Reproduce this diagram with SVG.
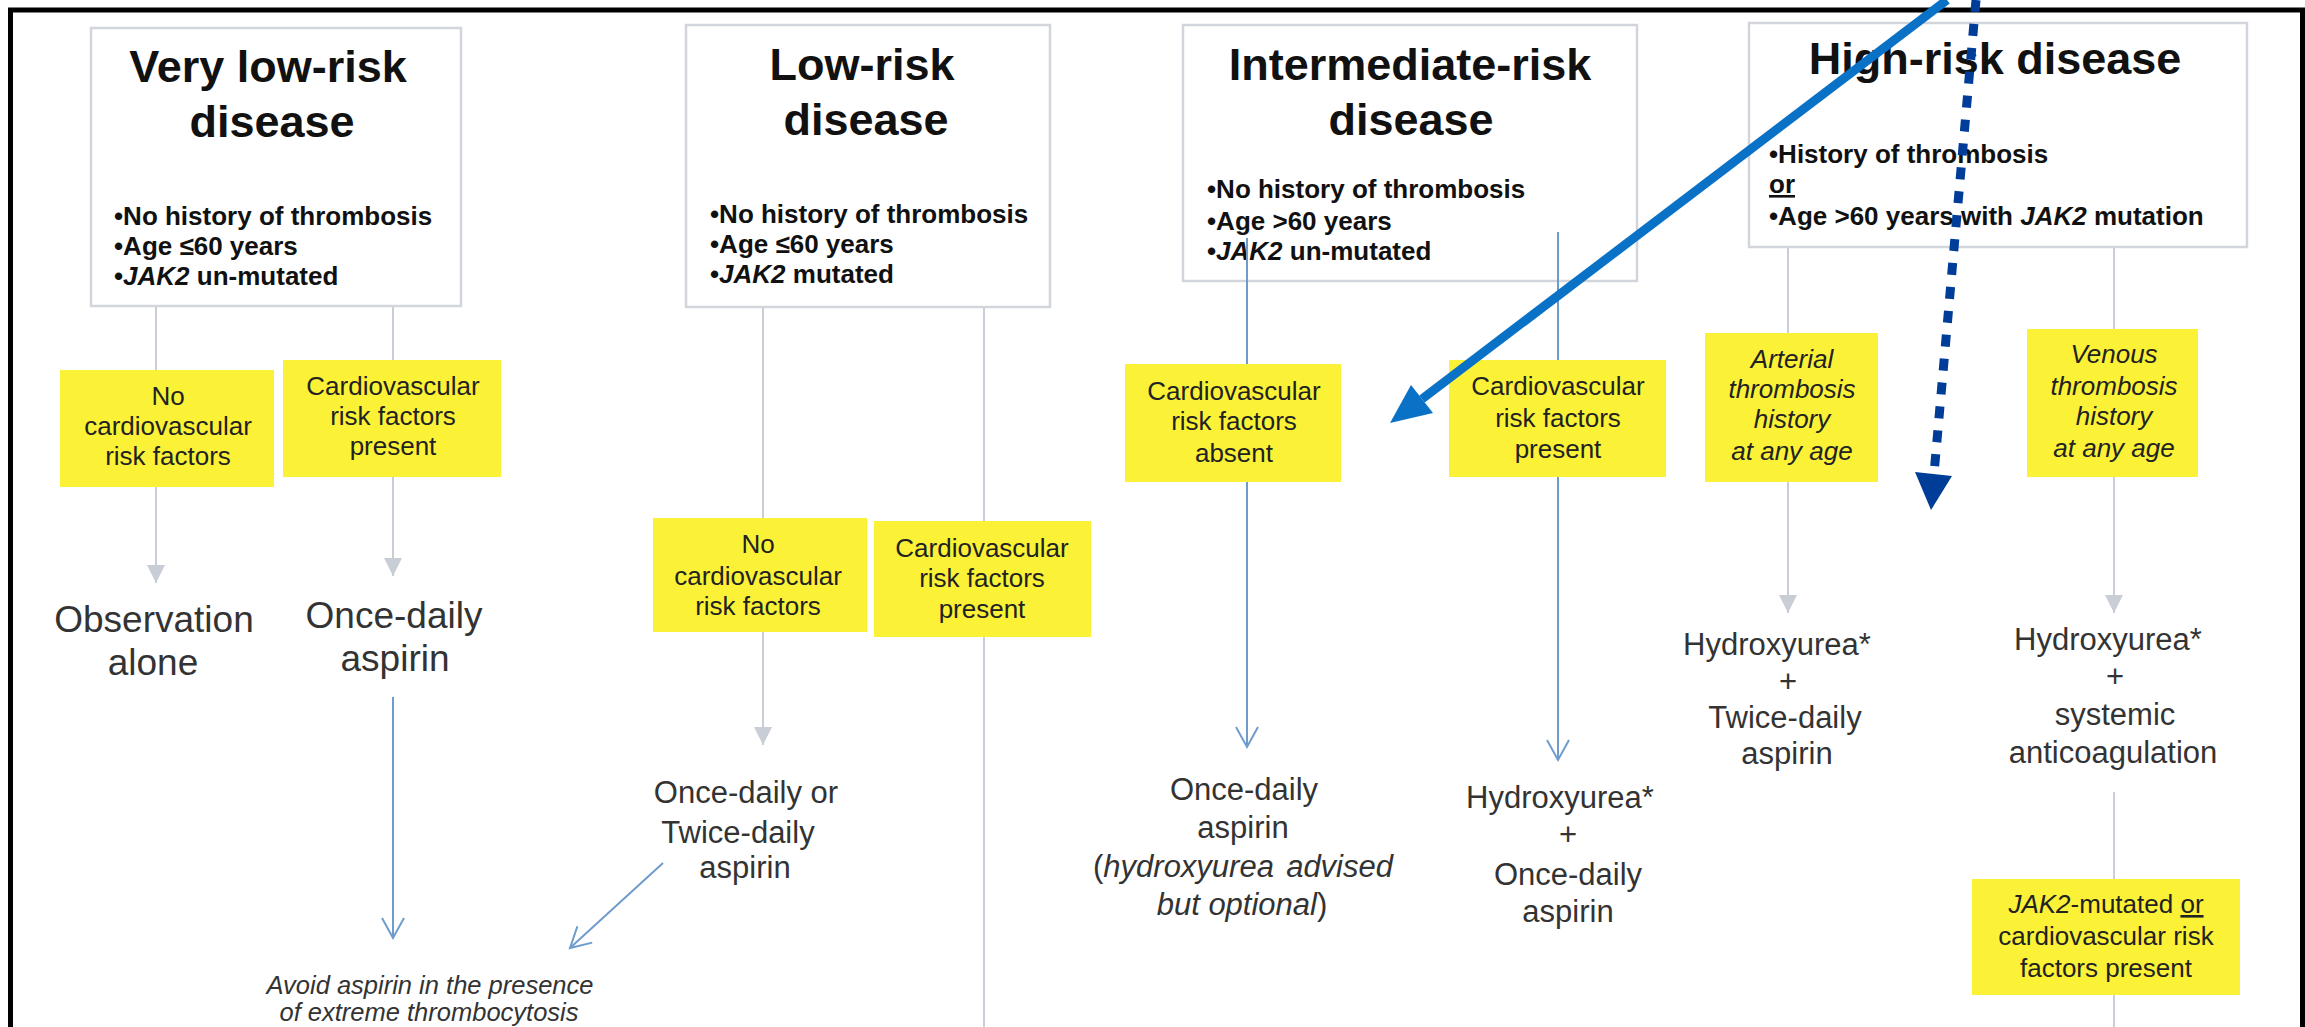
<svg xmlns="http://www.w3.org/2000/svg" width="2305" height="1027" viewBox="0 0 2305 1027">
<style>
.box{fill:#fff;stroke:#d3d5dc;stroke-width:2.5}
.yb{fill:#fbf238}
.title{font-family:"Liberation Sans",Arial,sans-serif;font-weight:bold;font-size:45px;fill:#111;text-anchor:middle}
.bul{font-family:"Liberation Sans",Arial,sans-serif;font-weight:bold;font-size:26px;fill:#111}
.yt{font-family:"Liberation Sans",Arial,sans-serif;font-size:26px;fill:#222;text-anchor:middle}
.it{font-style:italic}
.tr{font-family:"Liberation Sans",Arial,sans-serif;font-size:31px;fill:#333;text-anchor:middle}
.tr1{font-size:37px}
.gl{stroke:#c9cdd6;stroke-width:2;fill:none}
.bl{stroke:#6f9ccd;stroke-width:2;fill:none}
</style>
<defs>
<marker id="gh" markerUnits="userSpaceOnUse" viewBox="0 0 20 20" markerWidth="20" markerHeight="20" refX="18" refY="10" orient="auto">
<path d="M0,1 L18,10 L0,19 z" fill="#c9cdd6"/>
</marker>
<marker id="bh" markerUnits="userSpaceOnUse" viewBox="0 0 24 24" markerWidth="24" markerHeight="24" refX="21" refY="12" orient="auto">
<path d="M1,1 L21,12 L1,23" fill="none" stroke="#6f9ccd" stroke-width="2"/>
</marker>
</defs>
<rect width="2305" height="1027" fill="#fff"/>
<path d="M10.5,1040 V10 H2302.5 V1040" fill="none" stroke="#000" stroke-width="5"/>

<g id="nodes">
<g id="box-very-low">
<rect class="box" x="91" y="28" width="370" height="278"/>
<text class="title" x="268" y="82">Very low-risk</text>
<text class="title" x="272" y="137">disease</text>
<text class="bul" x="114" y="225">•No history of thrombosis</text>
<text class="bul" x="114" y="255">•Age ≤60 years</text>
<text class="bul" x="114" y="285">•<tspan class="it">JAK2</tspan> un-mutated</text>
</g>
<g id="box-low">
<rect class="box" x="686" y="25" width="364" height="282"/>
<text class="title" x="862" y="80">Low-risk</text>
<text class="title" x="866" y="135">disease</text>
<text class="bul" x="710" y="223">•No history of thrombosis</text>
<text class="bul" x="710" y="253">•Age ≤60 years</text>
<text class="bul" x="710" y="283">•<tspan class="it">JAK2</tspan> mutated</text>
</g>
<g id="box-intermediate">
<rect class="box" x="1183" y="25" width="454" height="256"/>
<text class="title" x="1410" y="80">Intermediate-risk</text>
<text class="title" x="1411" y="135">disease</text>
<text class="bul" x="1207" y="198">•No history of thrombosis</text>
<text class="bul" x="1207" y="230">•Age &gt;60 years</text>
<text class="bul" x="1207" y="260">•<tspan class="it">JAK2</tspan> un-mutated</text>
</g>
<g id="box-high">
<rect class="box" x="1749" y="23" width="498" height="224"/>
<text class="title" x="1995" y="74">High-risk disease</text>
<text class="bul" x="1769" y="163">•History of thrombosis</text>
<text class="bul" x="1769" y="193" text-decoration="underline">or</text>
<text class="bul" x="1769" y="225">•Age &gt;60 years with <tspan class="it">JAK2</tspan> mutation</text>
</g>

<g id="y-vl-no">
<rect class="yb" x="60" y="370" width="214" height="117"/>
<text class="yt" x="168" y="405">No</text>
<text class="yt" x="168" y="435">cardiovascular</text>
<text class="yt" x="168" y="465">risk factors</text>
</g>
<g id="y-vl-present">
<rect class="yb" x="283" y="360" width="218" height="117"/>
<text class="yt" x="393" y="395">Cardiovascular</text>
<text class="yt" x="393" y="425">risk factors</text>
<text class="yt" x="393" y="455">present</text>
</g>
<g id="y-l-no">
<rect class="yb" x="653" y="518" width="214" height="114"/>
<text class="yt" x="758" y="553">No</text>
<text class="yt" x="758" y="585">cardiovascular</text>
<text class="yt" x="758" y="615">risk factors</text>
</g>
<g id="y-l-present">
<rect class="yb" x="874" y="521" width="217" height="116"/>
<text class="yt" x="982" y="557">Cardiovascular</text>
<text class="yt" x="982" y="587">risk factors</text>
<text class="yt" x="982" y="618">present</text>
</g>
<g id="y-i-absent">
<rect class="yb" x="1125" y="364" width="216" height="118"/>
<text class="yt" x="1234" y="400">Cardiovascular</text>
<text class="yt" x="1234" y="430">risk factors</text>
<text class="yt" x="1234" y="462">absent</text>
</g>
<g id="y-i-present">
<rect class="yb" x="1449" y="360" width="217" height="117"/>
<text class="yt" x="1558" y="395">Cardiovascular</text>
<text class="yt" x="1558" y="427">risk factors</text>
<text class="yt" x="1558" y="458">present</text>
</g>
<g id="y-h-arterial">
<rect class="yb" x="1705" y="333" width="173" height="149"/>
<text class="yt it" x="1792" y="368">Arterial</text>
<text class="yt it" x="1792" y="398">thrombosis</text>
<text class="yt it" x="1792" y="428">history</text>
<text class="yt it" x="1792" y="460">at any age</text>
</g>
<g id="y-h-venous">
<rect class="yb" x="2027" y="329" width="171" height="148"/>
<text class="yt it" x="2114" y="363">Venous</text>
<text class="yt it" x="2114" y="395">thrombosis</text>
<text class="yt it" x="2114" y="425">history</text>
<text class="yt it" x="2114" y="457">at any age</text>
</g>
<g id="y-h-jak2">
<rect class="yb" x="1972" y="879" width="268" height="116"/>
<text class="yt" x="2106" y="913"><tspan class="it">JAK2</tspan>-mutated <tspan text-decoration="underline">or</tspan></text>
<text class="yt" x="2106" y="945">cardiovascular risk</text>
<text class="yt" x="2106" y="977">factors present</text>
</g>

<g id="t-observation">
<text class="tr tr1" x="154" y="632">Observation</text>
<text class="tr tr1" x="153" y="675">alone</text>
</g>
<g id="t-once-daily-1">
<text class="tr tr1" x="394" y="628">Once-daily</text>
<text class="tr tr1" x="395" y="671">aspirin</text>
</g>
<g id="t-once-or-twice">
<text class="tr" x="746" y="803">Once-daily or</text>
<text class="tr" x="738" y="843">Twice-daily</text>
<text class="tr" x="745" y="878">aspirin</text>
</g>
<g id="t-avoid">
<text class="tr it" style="font-size:25.5px" x="430" y="994">Avoid aspirin in the presence</text>
<text class="tr it" style="font-size:25.5px" x="429" y="1021">of extreme thrombocytosis</text>
</g>
<g id="t-once-daily-int">
<text class="tr" x="1244" y="800">Once-daily</text>
<text class="tr" x="1243" y="838">aspirin</text>
<text class="tr" style="text-anchor:start" x="1093" y="877">(<tspan class="it">hydroxyurea</tspan></text>
<text class="tr it" style="text-anchor:end" x="1393" y="877">advised</text>
<text class="tr" x="1242" y="915"><tspan class="it">but optional</tspan>)</text>
</g>
<g id="t-hu-once">
<text class="tr" x="1560" y="808">Hydroxyurea*</text>
<text class="tr" x="1568" y="845">+</text>
<text class="tr" x="1568" y="885">Once-daily</text>
<text class="tr" x="1568" y="922">aspirin</text>
</g>
<g id="t-hu-twice">
<text class="tr" x="1777" y="655">Hydroxyurea*</text>
<text class="tr" x="1788" y="692">+</text>
<text class="tr" x="1785" y="728">Twice-daily</text>
<text class="tr" x="1787" y="764">aspirin</text>
</g>
<g id="t-hu-anticoag">
<text class="tr" x="2108" y="650">Hydroxyurea*</text>
<text class="tr" x="2115" y="687">+</text>
<text class="tr" x="2115" y="725">systemic</text>
<text class="tr" x="2113" y="763">anticoagulation</text>
</g>
</g>

<g id="connectors">
<line class="gl" x1="156" y1="307" x2="156" y2="370"/>
<line class="gl" x1="156" y1="487" x2="156" y2="583" marker-end="url(#gh)"/>
<line class="gl" x1="393" y1="307" x2="393" y2="360"/>
<line class="gl" x1="393" y1="477" x2="393" y2="576" marker-end="url(#gh)"/>
<line class="bl" x1="393" y1="697" x2="393" y2="938" marker-end="url(#bh)"/>
<line class="gl" x1="763" y1="308" x2="763" y2="518"/>
<line class="gl" x1="763" y1="632" x2="763" y2="745" marker-end="url(#gh)"/>
<line class="gl" x1="984" y1="308" x2="984" y2="521"/>
<line class="gl" x1="984" y1="637" x2="984" y2="1030"/>
<line class="bl" x1="663" y1="863" x2="570" y2="948" marker-end="url(#bh)"/>
<line class="bl" x1="1247" y1="238" x2="1247" y2="364"/>
<line class="bl" x1="1247" y1="482" x2="1247" y2="747" marker-end="url(#bh)"/>
<line class="bl" x1="1558" y1="232" x2="1558" y2="360"/>
<line class="bl" x1="1558" y1="477" x2="1558" y2="760" marker-end="url(#bh)"/>
<line class="gl" x1="1788" y1="248" x2="1788" y2="333"/>
<line class="gl" x1="1788" y1="482" x2="1788" y2="613" marker-end="url(#gh)"/>
<line class="gl" x1="2114" y1="248" x2="2114" y2="329"/>
<line class="gl" x1="2114" y1="477" x2="2114" y2="613" marker-end="url(#gh)"/>
<line class="gl" x1="2114" y1="792" x2="2114" y2="879"/>
<line class="gl" x1="2114" y1="995" x2="2114" y2="1030"/>
<line x1="1947" y1="0" x2="1422" y2="399" stroke="#0a72c6" stroke-width="9"/>
<polygon points="1390,423 1433,413 1411,385" fill="#0a72c6"/>
<line x1="1976" y1="0" x2="1934" y2="474" stroke="#003d99" stroke-width="9" stroke-dasharray="12 12"/>
<polygon points="1931,510 1952,476 1915,472" fill="#003d99"/>
</g>
</svg>
